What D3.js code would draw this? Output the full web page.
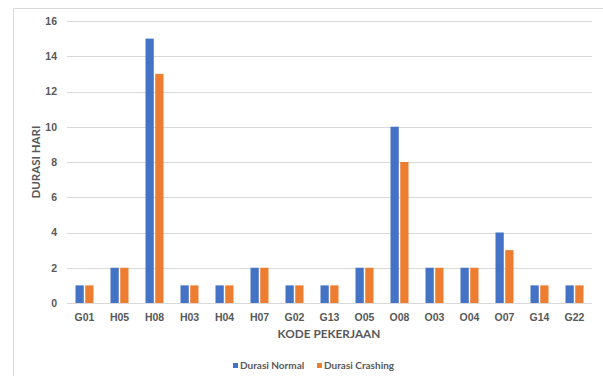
<!DOCTYPE html>
<html><head><meta charset="utf-8">
<script src="https://cdn.jsdelivr.net/npm/d3@7"></script>
<style>body{margin:0;background:#fff;}svg{display:block;font-family:Lato,"Open Sans",sans-serif;}</style>
</head><body>
<script>
const categories = ["G01","H05","H08","H03","H04","H07","G02","G13","O05","O08","O03","O04","O07","G14","G22"];
const durasiNormal = [1,2,15,1,1,2,1,1,2,10,2,2,4,1,1];
const durasiCrashing = [1,2,13,1,1,2,1,1,2,8,2,2,3,1,1];
const yTicks = [0,2,4,6,8,10,12,14,16];
const seriesNames = ["Durasi Normal","Durasi Crashing"];
const colors = ["#4472c4","#ed7d31"];

const W=603,H=376;
const svg=d3.select("body").append("svg").attr("width",W).attr("height",H);
// border
svg.append("path").attr("d","M13.5,376 L13.5,8.5 L603,8.5").attr("fill","none").attr("stroke","#d9d9d9").attr("stroke-width",1);

const x=d3.scaleBand().domain(categories).range([67,592]);
const y=d3.scaleLinear().domain([0,16]).range([303,21]);
const xs=d3.scaleBand().domain(seriesNames).range([0,18]).paddingInner(0.15);

// gridlines
svg.append("g").selectAll("line").data(yTicks).join("line")
 .attr("x1",67).attr("x2",592).attr("y1",d=>Math.round(y(d))+0.5).attr("y2",d=>Math.round(y(d))+0.5)
 .attr("stroke","#d9d9d9").attr("stroke-width",1);

// y tick labels
const yAxis=d3.axisLeft(y).tickValues(yTicks).tickSize(0).tickPadding(0);
const gy=svg.append("g").attr("transform","translate(57,0)").call(yAxis);
gy.select(".domain").remove();
gy.selectAll("text").attr("fill","#595959").style("font-size","10.5px").attr("font-weight","bold");

// bars
const series=[durasiNormal,durasiCrashing];
series.forEach((vals,si)=>{
  svg.append("g").selectAll("rect").data(categories).join("rect")
   .attr("x",c=>x(c)+x.bandwidth()/2-9+xs(seriesNames[si]))
   .attr("width",xs.bandwidth())
   .attr("y",(c,i)=>y(vals[i]))
   .attr("height",(c,i)=>y(0)-y(vals[i]))
   .attr("fill",colors[si]);
});

// x axis labels
const xAxis=d3.axisBottom(x).tickSize(0).tickPadding(0);
const gx=svg.append("g").attr("transform","translate(0,317)").call(xAxis);
gx.select(".domain").remove();
gx.selectAll("text").attr("fill","#595959").style("font-size","10.5px").attr("font-weight","bold").attr("dy","0.35em");

// axis titles
svg.append("text").attr("x",329).attr("y",337.5).attr("text-anchor","middle").attr("fill","#595959")
 .style("font-size","11.8px").attr("font-weight","bold").text("KODE PEKERJAAN");
svg.append("text").attr("transform","translate(40,162) rotate(-90)").attr("text-anchor","middle").attr("fill","#595959")
 .style("font-size","11.5px").attr("font-weight","bold").text("DURASI HARI");

// legend
const lg=svg.append("g");
const lx=[233,317];
seriesNames.forEach((n,i)=>{
  lg.append("rect").attr("x",lx[i]).attr("y",363).attr("width",5).attr("height",5).attr("fill",colors[i]);
  lg.append("text").attr("x",lx[i]+7).attr("y",369).attr("fill","#595959").style("font-size","10px").attr("font-weight","bold").text(n);
});
</script>
</body></html>
